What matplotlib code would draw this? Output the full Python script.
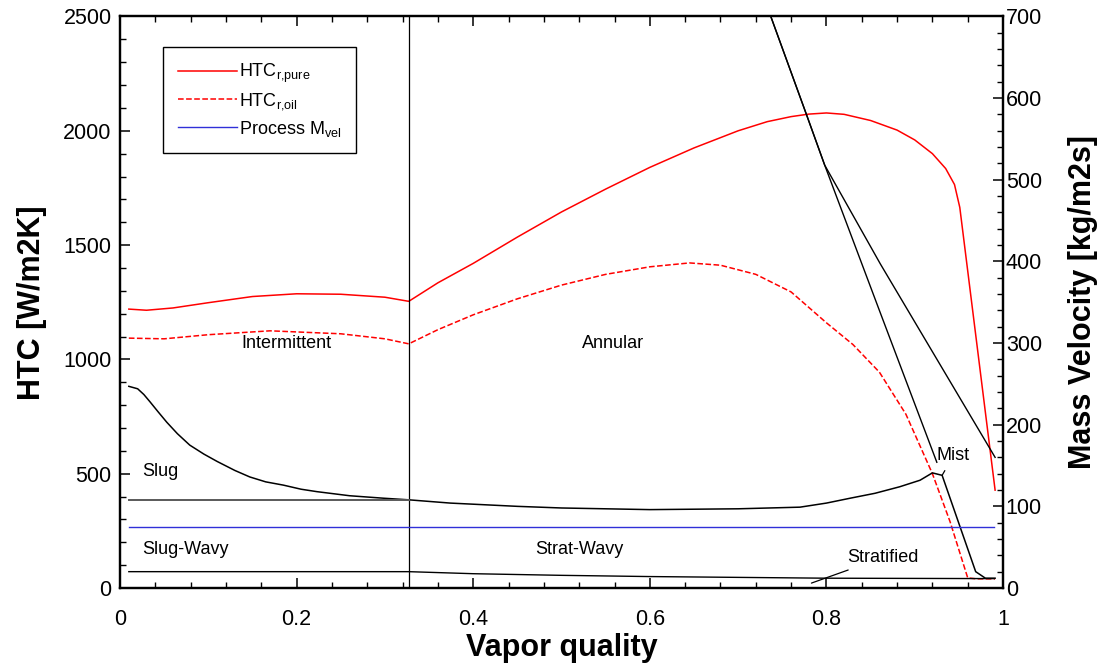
import numpy as np
import matplotlib
matplotlib.use("Agg")
from matplotlib import pyplot as plt
from matplotlib.ticker import MultipleLocator

plt.rcParams['font.family'] = ['Liberation Sans', 'DejaVu Sans']
plt.rcParams['mathtext.fontset'] = 'custom'
plt.rcParams['mathtext.rm'] = 'Liberation Sans'
plt.rcParams['mathtext.default'] = 'regular'

# --- Datos ---
# HTC (eje izquierdo, W/m2K)
q_pure = [0.01, 0.03, 0.06, 0.1, 0.15, 0.2, 0.25, 0.3, 0.327, 0.36, 0.4, 0.45,
          0.5, 0.55, 0.6, 0.65, 0.7, 0.733, 0.76, 0.78, 0.8, 0.82, 0.85, 0.88,
          0.9, 0.92, 0.935, 0.945, 0.951, 0.991]
htc_pure = [1220, 1215, 1225, 1248, 1275, 1287, 1285, 1272, 1254, 1335, 1420, 1535,
            1645, 1745, 1840, 1925, 2000, 2040, 2062, 2073, 2078, 2072, 2045, 2003,
            1960, 1900, 1835, 1765, 1665, 428]

q_oil = [0.01, 0.05, 0.1, 0.17, 0.25, 0.3, 0.327, 0.36, 0.4, 0.45, 0.5, 0.55,
         0.6, 0.645, 0.68, 0.72, 0.76, 0.8, 0.83, 0.86, 0.89, 0.92, 0.94, 0.96,
         0.97, 0.991]
htc_oil = [1093, 1090, 1108, 1125, 1112, 1090, 1068, 1130, 1195, 1265, 1325, 1372,
           1405, 1422, 1412, 1372, 1295, 1160, 1065, 944, 760, 500, 290, 44,
           40, 40]

# Mapa de flujo (eje derecho, kg/m2s)
q_slug = [0.01, 0.02, 0.027, 0.034, 0.043, 0.053, 0.065, 0.079, 0.095, 0.11, 0.13,
          0.147, 0.165, 0.185, 0.205, 0.223, 0.26, 0.298, 0.327, 0.374, 0.45, 0.5,
          0.6, 0.7, 0.77, 0.8, 0.827, 0.855, 0.883, 0.906, 0.92, 0.931, 0.969,
          0.98, 0.991]
g_slug = [247, 244, 237, 228, 216, 203, 189, 175, 164, 155, 144,
          136, 130, 126, 121, 118, 113, 110, 108, 104, 100, 98,
          96, 97, 99, 104, 110, 116, 124, 132, 141, 138, 20,
          12, 12]

q_sw = [0.01, 0.327]
g_sw = [108, 108]

q_strat = [0.01, 0.327, 0.4, 0.5, 0.6, 0.7, 0.8, 0.99]
g_strat = [20, 20, 17.5, 15.5, 14, 13, 12, 11.5]

q_proc = [0.01, 0.99]
g_proc = [75, 75]

q_dry = [0.737, 0.777, 0.798, 0.861, 0.991]
g_dry = [700, 581, 518, 397, 160]

q_mist = [0.737, 0.777, 0.798, 0.861, 0.925]
g_mist = [700, 581, 518, 337, 154]

q_ia = 0.327  # transicion Intermittent / Annular

# --- Figura ---
fig = plt.figure(figsize=(11.07, 6.65), dpi=100)
ax = fig.add_axes([0.1084, 0.1158, 0.7977, 0.8594])
ax2 = ax.twinx()

l1, = ax.plot(q_pure, htc_pure, c="red", lw=1.1)
l2, = ax.plot(q_oil, htc_oil, "--", c="red", lw=1.1)
ax.axvline(q_ia, c="black", lw=0.9)

ax2.plot(q_slug, g_slug, c="black", lw=1.1)
ax2.plot(q_sw, g_sw, c="0.35", lw=1.4)
ax2.plot(q_strat, g_strat, c="black", lw=1.0)
l3, = ax2.plot(q_proc, g_proc, c="#3030d8", lw=1.0)
ax2.plot(q_dry, g_dry, c="black", lw=1.0)
ax2.plot(q_mist, g_mist, c="black", lw=1.0)

# Etiquetas de zonas
fs = 13
ax2.text(0.188, 300, "Intermittent", fontsize=fs, ha="center", va="center")
ax2.text(0.558, 300, "Annular", fontsize=fs, ha="center", va="center")
ax2.text(0.025, 143, "Slug", fontsize=fs, ha="left", va="center")
ax2.text(0.025, 47, "Slug-Wavy", fontsize=fs, ha="left", va="center")
ax2.text(0.52, 47, "Strat-Wavy", fontsize=fs, ha="center", va="center")
ax2.annotate("Stratified", xy=(0.783, 6), xytext=(0.823, 37), fontsize=fs,
             ha="left", va="center",
             arrowprops=dict(arrowstyle="-", color="black", lw=0.9, shrinkA=2, shrinkB=0))
ax2.annotate("Mist", xy=(0.931, 138), xytext=(0.925, 162), fontsize=fs,
             ha="left", va="center",
             arrowprops=dict(arrowstyle="-", color="black", lw=0.9, shrinkA=3, shrinkB=0))

# Ejes
ax.set_xlim(0, 1)
ax.set_ylim(0, 2500)
ax2.set_ylim(0, 700)
ax.xaxis.set_major_locator(MultipleLocator(0.2))
ax.xaxis.set_minor_locator(MultipleLocator(0.04))
ax.yaxis.set_major_locator(MultipleLocator(500))
ax.yaxis.set_minor_locator(MultipleLocator(100))
ax2.yaxis.set_major_locator(MultipleLocator(100))
ax2.yaxis.set_minor_locator(MultipleLocator(20))
ax.xaxis.set_major_formatter(lambda v, p: f"{v:g}")

ax.tick_params(axis="x", which="both", direction="in", top=True, labelsize=15.5, pad=15)
ax.tick_params(axis="y", which="both", direction="in", right=False, labelsize=15.5, pad=6)
ax2.tick_params(axis="y", which="both", direction="in", labelsize=15.5, pad=2)
for a in (ax, ax2):
    a.tick_params(which="major", length=7, width=1.1)
    a.tick_params(which="minor", length=4, width=1.0)
    for s in a.spines.values():
        s.set_linewidth(1.6)

ax.set_xlabel("Vapor quality", fontsize=22, fontweight="bold", labelpad=2)
ax.set_ylabel("HTC [W/m2K]", fontsize=22, fontweight="bold", labelpad=12)
ax2.set_ylabel("Mass Velocity [kg/m2s]", fontsize=22, fontweight="bold", labelpad=19)

leg = ax.legend([l1, l2, l3],
                ["HTC$_{r{,}pure}$", "HTC$_{r{,}oil}$", "Process M$_{vel}$"],
                loc="upper left", bbox_to_anchor=(0.049, 0.946), fontsize=13,
                frameon=True, fancybox=False, edgecolor="black", framealpha=1,
                handlelength=3.3, handletextpad=0.1, labelspacing=0.35,
                borderpad=0.8, borderaxespad=0)
leg.get_frame().set_linewidth(1.0)

fig.savefig("out.png", dpi=100)
